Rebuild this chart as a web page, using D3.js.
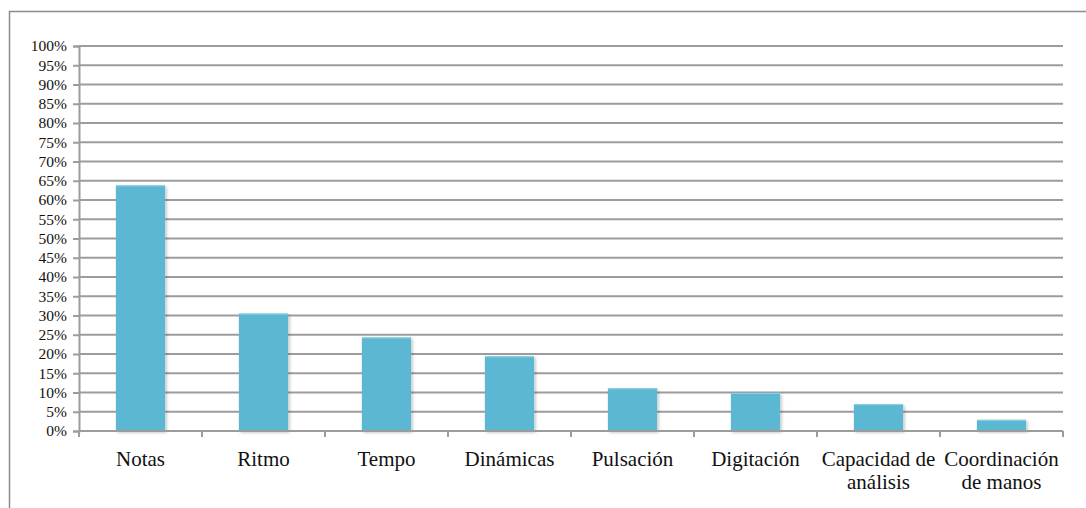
<!DOCTYPE html>
<html>
<head>
<meta charset="utf-8">
<script src="https://cdn.jsdelivr.net/npm/d3@7"></script>
<style>
  html, body { margin: 0; padding: 0; background: #fff; }
  svg { display: block; }
  svg text { font-family: "Times New Roman", "Liberation Serif", "DejaVu Serif", serif; fill: #111; }
</style>
</head>
<body>
<svg id="chart" width="1086" height="508"></svg>
<script>
// Skills rated by the students (share of answers)
const categories = [
  ["Notas"], ["Ritmo"], ["Tempo"], ["Dinámicas"], ["Pulsación"],
  ["Digitación"], ["Capacidad de", "análisis"], ["Coordinación", "de manos"]
];
const values = [0.638, 0.305, 0.243, 0.194, 0.111, 0.099, 0.070, 0.029];
const yTicks = d3.range(0, 21).map(i => i * 0.05);

const svg = d3.select("#chart");
const W = 1086, H = 508;
const margin = { left: 79, right: 23, top: 46, bottom: 77 };
const plotW = W - margin.left - margin.right;
const plotH = H - margin.top - margin.bottom;

// outer frame of the chart area
svg.append("rect")
  .attr("x", 9.5).attr("y", 11.5)
  .attr("width", 1100).attr("height", 520)
  .attr("fill", "none").attr("stroke", "#8c8c8c").attr("stroke-width", 1.5);

const g = svg.append("g").attr("transform", `translate(${margin.left},${margin.top})`);

const x = d3.scaleBand()
  .domain(categories.map(c => c.join(" ")))
  .range([0, plotW])
  .paddingInner(0.6).paddingOuter(0.3);

const y = d3.scaleLinear().domain([0, 1]).range([plotH, 0]);

// horizontal gridlines
g.append("g")
  .selectAll("line")
  .data(yTicks.slice(1))
  .join("line")
  .attr("x1", 0).attr("x2", plotW)
  .attr("y1", d => y(d)).attr("y2", d => y(d))
  .attr("stroke", "#9c9c9c").attr("stroke-width", 2);

// y axis
const yAxis = g.append("g")
  .call(d3.axisLeft(y).tickValues(yTicks).tickFormat(d3.format(".0%")).tickSize(6).tickPadding(6));
yAxis.attr("font-family", null).attr("font-size", null);
yAxis.select(".domain").attr("stroke", "#9c9c9c").attr("stroke-width", 2);
yAxis.selectAll(".tick line").attr("stroke", "#9c9c9c").attr("stroke-width", 2);
yAxis.selectAll("text").style("font-size", "15.5px");

// soft shadow under bars
const defs = svg.append("defs");
const f = defs.append("filter").attr("id", "shadow")
  .attr("x", "-20%").attr("y", "-20%").attr("width", "140%").attr("height", "140%");
f.append("feDropShadow").attr("dx", 1.5).attr("dy", 1.5).attr("stdDeviation", 1.5)
  .attr("flood-color", "#000").attr("flood-opacity", 0.25);

// bars
g.append("g")
  .selectAll("rect")
  .data(values)
  .join("rect")
  .attr("x", (d, i) => x(categories[i].join(" ")))
  .attr("y", d => y(d))
  .attr("width", x.bandwidth())
  .attr("height", d => plotH - y(d))
  .attr("fill", "#5bb8d2")
  .attr("filter", "url(#shadow)");

// light top edge on each bar
g.append("g")
  .selectAll("line")
  .data(values)
  .join("line")
  .attr("x1", (d, i) => x(categories[i].join(" ")))
  .attr("x2", (d, i) => x(categories[i].join(" ")) + x.bandwidth())
  .attr("y1", d => y(d) + 0.5).attr("y2", d => y(d) + 0.5)
  .attr("stroke", "#8fd0e2").attr("stroke-width", 1);

// x axis with ticks at category boundaries
const boundaries = d3.range(0, categories.length + 1).map(i => i * plotW / categories.length);
const xa = g.append("g").attr("transform", `translate(0,${plotH})`);
xa.append("line").attr("x1", 0).attr("x2", plotW).attr("y1", 0).attr("y2", 0)
  .attr("stroke", "#9c9c9c").attr("stroke-width", 2);
xa.selectAll("line.tick")
  .data(boundaries)
  .join("line").attr("class", "tick")
  .attr("x1", d => d).attr("x2", d => d)
  .attr("y1", 0).attr("y2", 6)
  .attr("stroke", "#9c9c9c").attr("stroke-width", 2);

const labels = xa.selectAll("text")
  .data(categories)
  .join("text")
  .attr("x", d => x(d.join(" ")) + x.bandwidth() / 2)
  .attr("y", 35)
  .attr("text-anchor", "middle")
  .style("font-size", "21px");
labels.selectAll("tspan")
  .data(d => d)
  .join("tspan")
  .attr("x", function () { return d3.select(this.parentNode).attr("x"); })
  .attr("dy", (d, i) => i === 0 ? 0 : 23)
  .text(d => d);
</script>
</body>
</html>
